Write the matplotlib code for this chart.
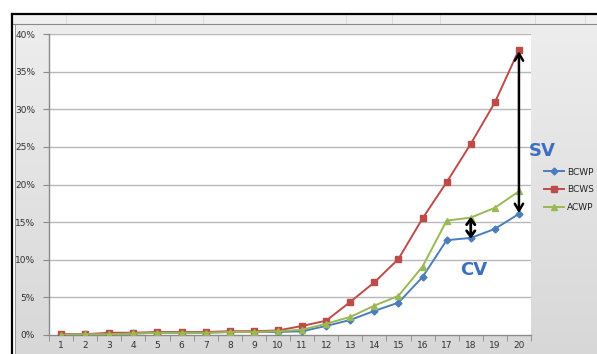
import numpy as np
import matplotlib
matplotlib.use("Agg")
import matplotlib.pyplot as plt
from matplotlib.lines import Line2D
from matplotlib.patches import Rectangle

periods = list(range(1, 21))
bcwp = [0.000, 0.001, 0.001, 0.002, 0.003, 0.003, 0.003, 0.004, 0.004, 0.004,
        0.005, 0.012, 0.020, 0.032, 0.043, 0.077, 0.126, 0.129, 0.141, 0.161]
bcws = [0.001, 0.001, 0.003, 0.003, 0.004, 0.004, 0.004, 0.005, 0.005, 0.006,
        0.012, 0.019, 0.044, 0.070, 0.101, 0.155, 0.203, 0.254, 0.309, 0.379]
acwp = [0.000, 0.001, 0.001, 0.002, 0.003, 0.003, 0.003, 0.004, 0.004, 0.005,
        0.007, 0.015, 0.024, 0.039, 0.052, 0.091, 0.152, 0.156, 0.169, 0.191]
yticks = [0.0, 0.05, 0.10, 0.15, 0.20, 0.25, 0.30, 0.35, 0.40]
ytick_labels = ["0%", "5%", "10%", "15%", "20%", "25%", "30%", "35%", "40%"]
series_names = ["BCWP", "BCWS", "ACWP"]

W, H = 597, 354
fig = plt.figure(figsize=(W / 100, H / 100), dpi=100)
fig.patch.set_facecolor("white")

# gray gradient chart background
bg = fig.add_axes([15 / W, 0, 1 - 15 / W, (H - 24) / H])
grad = np.linspace(0.93, 0.845, 256).reshape(-1, 1)
bg.imshow(np.dstack([grad, grad, grad]), aspect="auto", extent=[0, 1, 0, 1])
bg.set_axis_off()

# top spreadsheet strip
strip = Rectangle((12 / W, (H - 24) / H), 1, 10 / H, transform=fig.transFigure,
                  facecolor="#f0f0f0", edgecolor="none")
fig.add_artist(strip)
for xx in [66, 155, 203, 346, 392, 440, 535, 585]:
    fig.add_artist(Line2D([xx / W, xx / W], [(H - 24) / H, (H - 15) / H],
                          transform=fig.transFigure, color="#d8d8d8", lw=0.6))
fig.add_artist(Line2D([12 / W, 1], [(H - 14) / H, (H - 14) / H],
                      transform=fig.transFigure, color="black", lw=1.6))
fig.add_artist(Line2D([12 / W, 1], [(H - 24) / H, (H - 24) / H],
                      transform=fig.transFigure, color="#8a8a8a", lw=0.8))
fig.add_artist(Line2D([11.5 / W, 11.5 / W], [0, (H - 14) / H],
                      transform=fig.transFigure, color="black", lw=1.6))
fig.add_artist(Line2D([15 / W, 15 / W], [0, (H - 24) / H],
                      transform=fig.transFigure, color="#8a8a8a", lw=0.6))

ax = fig.add_axes([49 / W, (H - 335) / H, (531 - 49) / W, (335 - 34) / H])
ax.set_facecolor("white")
ax.set_xlim(0.5, 20.5)
ax.set_ylim(0, 0.40)

for y in yticks[1:]:
    ax.axhline(y, color="#b8b8b8", lw=1.0, zorder=1)

c_bcwp, c_bcws, c_acwp = "#4a7ebb", "#be4b48", "#98b954"
ax.plot(periods, bcwp, color=c_bcwp, lw=1.4, marker="D", ms=3.5, zorder=3, label=series_names[0])
ax.plot(periods, bcws, color=c_bcws, lw=1.4, marker="s", ms=5, zorder=3, label=series_names[1])
ax.plot(periods, acwp, color=c_acwp, lw=1.4, marker="^", ms=5, zorder=3, label=series_names[2])

ax.set_xticks(periods)
ax.set_xticklabels([str(p) for p in periods], fontsize=6.5, color="#333333")
ax.set_xticks(np.arange(0.5, 21, 1), minor=True)
ax.tick_params(axis="x", which="major", length=0, pad=4)
ax.tick_params(axis="x", which="minor", length=4, color="#8a8a8a", direction="out")
ax.set_yticks(yticks)
ax.set_yticklabels(ytick_labels, fontsize=6.5, color="#333333")
ax.tick_params(axis="y", length=4, color="#8a8a8a", direction="out", pad=6)

for s in ["top", "right"]:
    ax.spines[s].set_visible(False)
for s in ["left", "bottom"]:
    ax.spines[s].set_color("#8a8a8a")
    ax.spines[s].set_linewidth(1.0)

# SV and CV arrows
ax.annotate("", xy=(periods[19], bcws[19] - 0.002), xytext=(periods[19], bcwp[19] + 0.001),
            arrowprops=dict(arrowstyle="<->,head_length=0.5,head_width=0.3", color="black",
                            lw=1.8, shrinkA=0, shrinkB=0), zorder=5)
ax.annotate("", xy=(periods[17], acwp[17] + 0.001), xytext=(periods[17], bcwp[17] - 0.001),
            arrowprops=dict(arrowstyle="<->,head_length=0.4,head_width=0.3", color="black",
                            lw=2.0, shrinkA=0, shrinkB=0), zorder=5)

fig.text(542 / W, 1 - 151 / H, "SV", fontsize=13, fontweight="bold", color="#3d6fc0",
         ha="center", va="center")
fig.text(474 / W, 1 - 270 / H, "CV", fontsize=13, fontweight="bold", color="#3d6fc0",
         ha="center", va="center")

leg = ax.legend(loc="upper left", bbox_to_anchor=(540 / W, 1 - 164 / H),
                bbox_transform=fig.transFigure, frameon=False, fontsize=6.5,
                handlelength=2.3, labelspacing=0.95, handletextpad=0.3, borderaxespad=0)
for t in leg.get_texts():
    t.set_color("#222222")

fig.savefig("out.png", dpi=100)
